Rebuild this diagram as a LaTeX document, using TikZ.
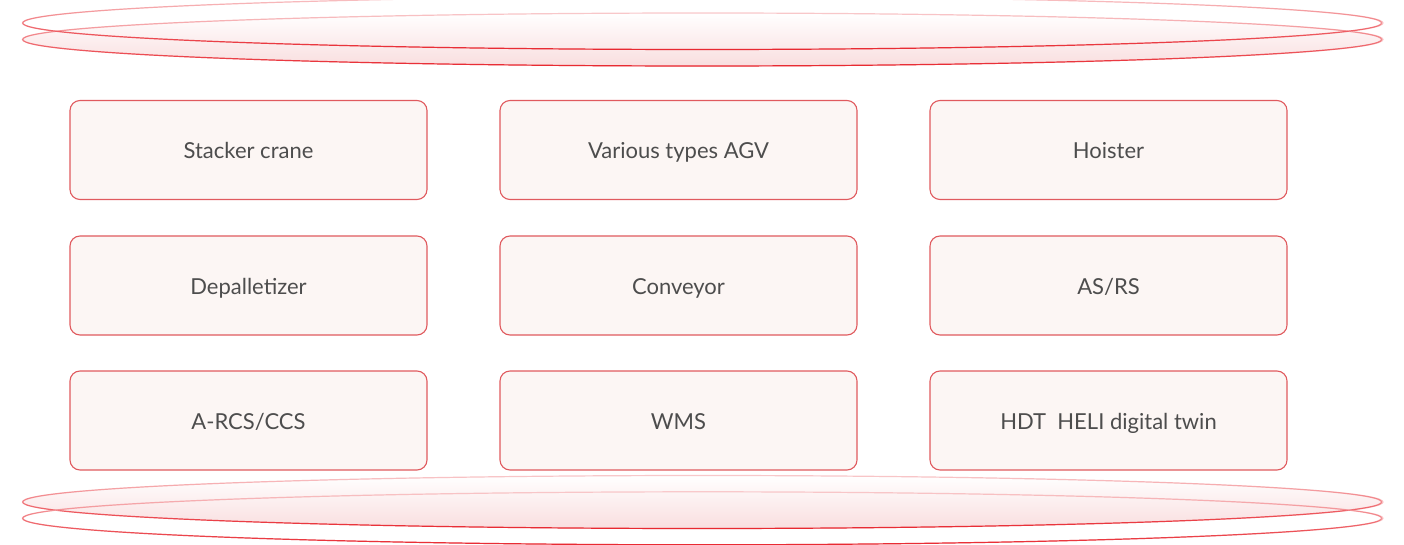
\documentclass[tikz,border=0pt]{standalone}
\usepackage{fontspec}
\setmainfont{Lato}
\usetikzlibrary{fadings}
\definecolor{helired}{HTML}{E8262E}
\definecolor{heliedge}{HTML}{E05A5E}
\definecolor{helifill}{HTML}{FCF6F4}
\definecolor{helipink}{HTML}{F9DEDF}
\definecolor{helitext}{HTML}{4D4D4D}
\tikzfading[name=fadeup, top color=transparent!100, bottom color=transparent!0]
\tikzset{
	module/.style={draw=heliedge, line width=1.1pt, fill=helifill, rounded corners=10pt,
		minimum width=357pt, minimum height=99pt, inner sep=0pt,
		text height=18pt, text depth=0pt,
		text=helitext, font=\fontsize{22}{26}\selectfont},
	disc/.style={line width=1.2pt},
}
\def\discline(#1){\draw[disc, draw=helired!25] (#1) ellipse (680pt and 26.5pt);
	\draw[disc, draw=helired, path fading=fadeup] (#1) ellipse (680pt and 26.5pt);}

\begin{document}
\begin{tikzpicture}[x=1pt, y=-1pt]
			%%%%% START %%%%%
			\useasboundingbox (0, 0) rectangle (1404, 545);
			
			% top discs
			\shade[top color=white, bottom color=helipink] (703, 39.5) ellipse (680pt and 26.5pt);
			\discline(703, 39.5)
			\discline(703, 23)
			
			% modules
			\node[module] (crane) at (248.5, 150) {Stacker crane};
			\node[module] (agv) at (678.5, 150) {Various types AGV};
			\node[module] (hoist) at (1108.5, 150) {Hoister};
			
			\node[module] (depal) at (248.5, 285.5) {Depalletizer};
			\node[module] (conv) at (678.5, 285.5) {Conveyor};
			\node[module] (asrs) at (1108.5, 285.5) {AS/RS};
			
			\node[module] (rcs) at (248.5, 420.5) {A-RCS/CCS};
			\node[module] (wms) at (678.5, 420.5) {WMS};
			\node[module] (hdt) at (1108.5, 420.5) {HDT\ \ HELI digital twin};
			
			% bottom discs
			\shade[top color=white, bottom color=helipink] (703, 502) ellipse (680pt and 26.5pt);
			\discline(703, 502)
			\discline(703, 518.3)
			
			%%%%% END %%%%%
\end{tikzpicture}
\end{document}
